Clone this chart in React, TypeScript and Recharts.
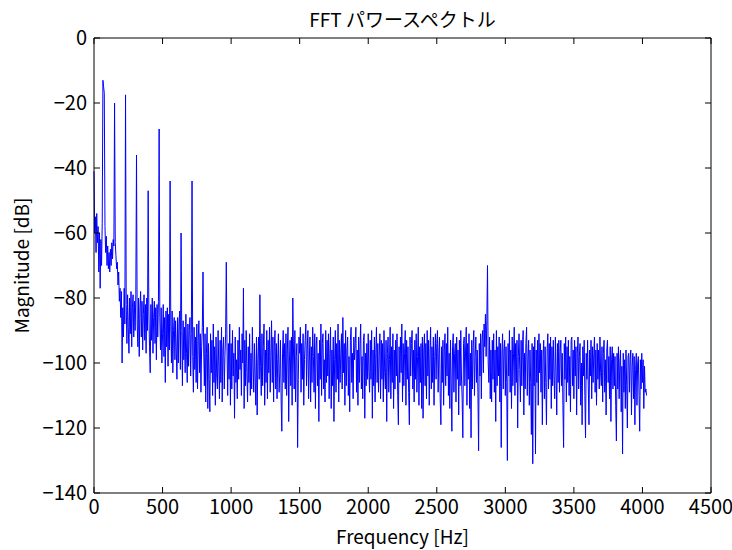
import React from 'react';
import { LineChart, Line, XAxis, YAxis, Label, ReferenceLine } from 'recharts';

// FFT bins are 5 Hz apart; magnitudes in dB, one row per 100 Hz
const BIN_HZ = 5;

const mag0to1k = [
  -41, -60, -55, -66, -54, -63, -58, -72, -60, -77, -62, -70, -57, -13, -15, -17, -58, -66, -61, -70,
  -64, -71, -66, -72, -65, -70, -63, -68, -62, -64, -20, -63, -67, -71, -69, -76, -72, -81, -77, -86,
  -78, -100, -83, -92, -77, -88, -17.5, -82, -94, -79, -89, -97, -80, -91, -78, -95, -83, -79, -92, -81,
  -90, -79, -36, -88, -95, -80, -98, -83, -78, -92, -81, -96, -85, -79, -93, -82, -97, -80, -90, -47,
  -84, -95, -103, -82, -93, -80, -97, -86, -81, -94, -83, -99, -82, -92, -81, -28, -86, -96, -83, -100,
  -91, -82, -98, -86, -106, -84, -95, -83, -101, -85, -96, -44, -88, -100, -84, -103, -90, -86, -99, -87,
  -96, -105, -86, -100, -88, -84, -102, -60, -90, -107, -87, -99, -89, -103, -85, -97, -106, -88, -101, -90,
  -86, -104, -91, -44, -98, -109, -89, -102, -92, -106, -88, -108, -93, -87, -103, -91, -109, -95, -89, -72,
  -96, -107, -91, -112, -97, -89, -114, -94, -105, -115, -91, -103, -93, -110, -88, -106, -95, -113, -92, -104,
  -108, -90, -101, -111, -93, -106, -89, -112, -96, -92, -108, -98, -91, -69, -95, -110, -94, -105, -88, -113,
];

const mag1kto2k = [
  -94, -108, -90, -104, -97, -117, -92, -106, -99, -111, -93, -105, -89, -102, -96, -110, -91, -100, -77, -114,
  -93, -107, -90, -103, -112, -95, -106, -91, -110, -97, -108, -89, -101, -109, -94, -104, -113, -92, -116, -99,
  -92, -105, -79, -101, -110, -91, -107, -95, -88, -113, -96, -106, -90, -111, -93, -103, -89, -109, -98, -87,
  -106, -92, -112, -95, -90, -108, -94, -111, -99, -91, -109, -103, -93, -112, -121, -97, -90, -106, -94, -108,
  -91, -110, -96, -89, -118, -100, -93, -107, -92, -113, -80, -96, -108, -90, -112, -98, -94, -126, -105, -92,
  -97, -89, -109, -94, -105, -91, -113, -99, -93, -88, -107, -96, -90, -111, -100, -92, -112, -95, -106, -89,
  -98, -109, -91, -114, -95, -92, -107, -97, -118, -93, -105, -88, -110, -94, -91, -108, -99, -112, -90, -106,
  -93, -104, -91, -111, -97, -89, -114, -96, -107, -92, -118, -99, -90, -109, -94, -105, -88, -112, -93, -106,
  -97, -91, -108, -86, -103, -94, -113, -90, -107, -96, -92, -110, -98, -115, -93, -89, -106, -97, -111, -92,
  -99, -94, -89, -109, -96, -113, -92, -106, -95, -88, -108, -98, -111, -93, -91, -117, -97, -107, -94, -105,
];

const mag2kto3k = [
  -91, -103, -109, -93, -105, -90, -117, -96, -107, -92, -112, -97, -89, -106, -94, -109, -98, -91, -111, -93,
  -105, -94, -112, -90, -103, -108, -93, -118, -97, -92, -109, -99, -89, -111, -95, -106, -91, -114, -96, -108,
  -93, -104, -91, -110, -119, -95, -106, -92, -103, -88, -112, -94, -107, -97, -90, -113, -93, -105, -95, -109,
  -119, -92, -104, -94, -90, -108, -96, -112, -93, -105, -91, -109, -98, -89, -113, -95, -106, -94, -114, -92,
  -117, -96, -91, -107, -94, -111, -90, -104, -93, -113, -97, -89, -108, -95, -106, -92, -113, -98, -91, -105,
  -94, -90, -109, -97, -92, -111, -119, -95, -106, -93, -113, -96, -91, -107, -94, -104, -89, -110, -97, -114,
  -93, -106, -121, -95, -91, -109, -97, -94, -112, -92, -105, -96, -116, -93, -107, -90, -104, -111, -123, -94,
  -92, -107, -96, -89, -113, -94, -105, -91, -114, -97, -123, -93, -108, -95, -90, -110, -98, -92, -106, -96,
  -109, -127, -94, -104, -91, -111, -93, -90, -103, -88, -95, -85, -98, -87, -70, -100, -106, -92, -111, -96,
  -112, -93, -105, -91, -109, -96, -118, -90, -107, -95, -104, -92, -112, -94, -126, -97, -91, -108, -96, -93,
];

const mag3kto4k = [
  -110, -95, -106, -130, -94, -104, -90, -109, -96, -114, -92, -107, -97, -89, -110, -94, -106, -93, -120, -98,
  -91, -102, -112, -93, -107, -95, -90, -116, -97, -108, -94, -89, -110, -98, -93, -113, -96, -106, -122, -94,
  -131, -95, -107, -92, -128, -96, -106, -93, -113, -91, -103, -94, -109, -96, -119, -98, -93, -111, -95, -106,
  -119, -96, -91, -108, -94, -105, -92, -114, -95, -107, -93, -104, -111, -92, -103, -116, -94, -106, -93, -109,
  -96, -93, -107, -97, -113, -126, -94, -105, -92, -112, -95, -106, -93, -110, -98, -115, -93, -92, -107, -96,
  -111, -93, -104, -95, -116, -97, -92, -108, -98, -94, -113, -100, -119, -95, -104, -93, -110, -123, -97, -105,
  -93, -107, -119, -96, -104, -93, -111, -95, -106, -97, -92, -109, -96, -113, -94, -105, -96, -108, -92, -103,
  -107, -95, -112, -97, -93, -109, -99, -116, -96, -93, -106, -98, -111, -95, -118, -99, -95, -108, -97, -107,
  -98, -113, -124, -97, -108, -95, -111, -100, -96, -115, -101, -128, -97, -109, -99, -114, -96, -107, -120, -98,
  -97, -109, -99, -96, -116, -101, -97, -111, -98, -119, -102, -97, -113, -100, -98, -110, -121, -99, -108, -97,
];

const mag4kUp = [-106, -99, -114, -101, -109, -108, -110];

const xTicks = [0, 500, 1000, 1500, 2000, 2500, 3000, 3500, 4000, 4500];
const yTicks = [-140, -120, -100, -80, -60, -40, -20, 0];

const magnitudes = [...mag0to1k, ...mag1kto2k, ...mag2kto3k, ...mag3kto4k, ...mag4kUp];
const data = magnitudes.map((db, i) => ({ freq: i * BIN_HZ, db }));

// plot box in page pixels
const PLOT = { left: 94, right: 711, top: 38, bottom: 493 };
const TICK_LEN = 6;

const FONT = '"Noto Sans CJK JP", "Noto Sans", sans-serif';
const textStyle = { fill: '#000', fontSize: 20, fontFamily: FONT };

// MATLAB-style: ticks point inward, mirrored on the top edge
const XTick = ({ x, y, payload }: any) => (
  <g>
    <line x1={x} x2={x} y1={PLOT.bottom} y2={PLOT.bottom - TICK_LEN} stroke="#000" />
    <line x1={x} x2={x} y1={PLOT.top} y2={PLOT.top + TICK_LEN} stroke="#000" />
    <text x={x} y={y} dy="0.78em" textAnchor="middle" style={textStyle}>
      {payload.value}
    </text>
  </g>
);

// inward ticks on left, mirrored on the right edge
const YTick = ({ x, y, payload }: any) => (
  <g>
    <line x1={PLOT.left} x2={PLOT.left + TICK_LEN} y1={y} y2={y} stroke="#000" />
    <line x1={PLOT.right} x2={PLOT.right - TICK_LEN} y1={y} y2={y} stroke="#000" />
    <text x={x} y={y} dy="0.36em" textAnchor="end" style={textStyle}>
      {String(payload.value).replace('-', '\u2212')}
    </text>
  </g>
);

const App = () => {
  return (
    <div style={{ position: 'absolute', left: 0, top: 0, width: 732, height: 550, background: '#fff' }}>
      <div
        style={{
          position: 'absolute', left: PLOT.left, width: PLOT.right - PLOT.left, top: 6, textAlign: 'center',
          fontFamily: FONT, fontSize: 19, color: '#000', lineHeight: '26px',
        }}
      >
        FFT パワースペクトル
      </div>
      <LineChart
        width={732}
        height={550}
        data={data}
        margin={{ top: 38, right: 21, bottom: 27, left: 34 }}
      >
        <XAxis
          dataKey="freq"
          type="number"
          domain={[0, 4500]}
          ticks={xTicks}
          interval={0}
          height={30}
          tickSize={0}
          tickMargin={5}
          tick={<XTick />}
          tickLine={false}
          axisLine={{ stroke: '#000' }}
        >
          <Label
            content={({ viewBox }: any) => (
              <text
                x={viewBox.x + viewBox.width / 2}
                y={544}
                textAnchor="middle"
                style={{ fontFamily: FONT, fontSize: 19, fill: '#000' }}
              >
                Frequency [Hz]
              </text>
            )}
          />
        </XAxis>
        <YAxis
          type="number"
          domain={[-140, 0]}
          ticks={yTicks}
          interval={0}
          width={60}
          tickSize={0}
          tickMargin={7}
          tick={<YTick />}
          tickLine={false}
          axisLine={{ stroke: '#000' }}
        >
          <Label
            content={({ viewBox }: any) => (
              <text
                x={0}
                y={0}
                transform={`translate(29, ${viewBox.y + viewBox.height / 2}) rotate(-90)`}
                textAnchor="middle"
                style={{ fontFamily: FONT, fontSize: 19, fill: '#000' }}
              >
                Magnitude [dB]
              </text>
            )}
          />
        </YAxis>
        <ReferenceLine y={0} stroke="#000" strokeWidth={1} />
        <ReferenceLine x={4500} stroke="#000" strokeWidth={1} />
        <Line
          type="linear"
          dataKey="db"
          stroke="#0000ff"
          strokeWidth={1}
          dot={false}
          isAnimationActive={false}
        />
      </LineChart>
    </div>
  );
};

export default App;
